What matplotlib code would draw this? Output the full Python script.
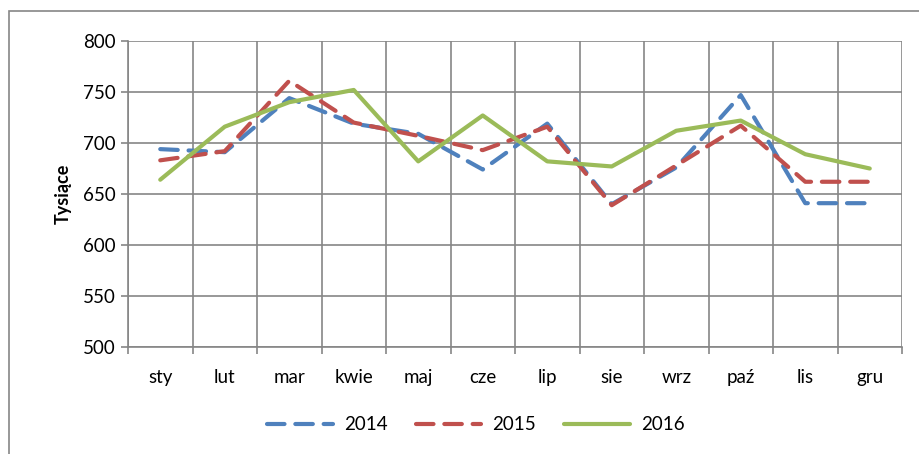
import matplotlib.pyplot as plt
from matplotlib.patches import Rectangle

plt.rcParams['font.family'] = ['Lato', 'DejaVu Sans']

# dane
miesiace = ['sty', 'lut', 'mar', 'kwie', 'maj', 'cze', 'lip', 'sie', 'wrz', 'paź', 'lis', 'gru']
lata = ['2014', '2015', '2016']
v2014 = [694, 691, 744, 719, 709, 674, 719, 640, 676, 747, 641, 641]
v2015 = [683, 692, 761, 720, 707, 693, 716, 639, 678, 717, 662, 662]
v2016 = [664, 716, 740, 752, 682, 727, 682, 677, 712, 722, 689, 675]

W, H = 919, 454
fig = plt.figure(figsize=(W / 100, H / 100), dpi=100)
ax = fig.add_axes([128 / W, 1 - 347 / H, (902 - 128) / W, (347 - 41) / H])

# ramka wykresu
fig.patches.append(Rectangle((9 / W, -0.1), 1.2, 1 - 11 / H + 0.1, transform=fig.transFigure,
                             fill=False, edgecolor='#868686', linewidth=1.2))

x = range(len(miesiace))
ax.plot(x, v2014, color='#4F81BD', lw=3, dashes=(4.2, 2.6), dash_capstyle='round',
        solid_capstyle='round', label=lata[0], zorder=3)
ax.plot(x, v2015, color='#C0504D', lw=3, dashes=(4.2, 2.6), dash_capstyle='round',
        solid_capstyle='round', label=lata[1], zorder=4)
ax.plot(x, v2016, color='#9BBB59', lw=3, solid_capstyle='round', label=lata[2], zorder=5)

ax.set_xlim(-0.5, 11.5)
ax.set_ylim(500, 800)
ax.set_yticks(range(500, 801, 50))
ax.set_xticks(x)
ax.set_xticklabels(miesiace)
ax.set_xticks([i - 0.5 for i in range(13)], minor=True)

ax.grid(True, axis='y', color='#868686', lw=1.2)
ax.grid(True, axis='x', which='minor', color='#868686', lw=1.2)
ax.set_axisbelow(True)
for s in ax.spines.values():
    s.set_color('#868686')
    s.set_linewidth(1.2)
ax.spines['top'].set_visible(False)
ax.spines['right'].set_visible(False)

ax.tick_params(axis='x', which='major', length=0, pad=16, labelsize=13.5)
ax.tick_params(axis='x', which='minor', length=5, color='#868686', width=1.2)
ax.tick_params(axis='y', length=5, color='#868686', width=1.2, labelsize=13.5, pad=4)
ax.set_ylabel('Tysiące', fontsize=13, fontweight='bold', labelpad=8)

fig.legend(loc='center', bbox_to_anchor=(476 / W, 1 - 425 / H), ncol=3, frameon=False,
           fontsize=13.5, handlelength=3.5, columnspacing=1.5, handletextpad=0.6)

fig.savefig('out.png', dpi=100)
